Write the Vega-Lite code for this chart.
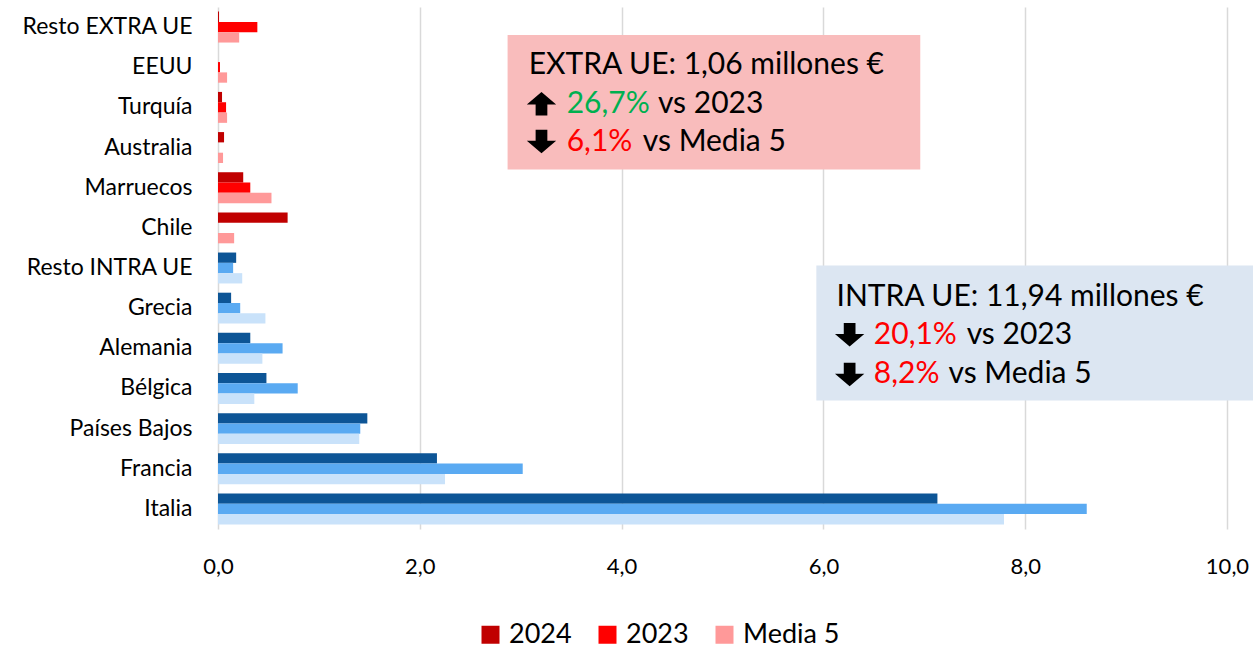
{
  "$schema": "https://vega.github.io/schema/vega-lite/v6.json",
  "width": 1009,
  "height": 522,
  "autosize": "none",
  "padding": {"left": 218, "top": 7, "right": 26, "bottom": 121},
  "background": "#FFFFFF",
  "config": {
    "view": {"stroke": null},
    "font": "Lato"
  },
  "datasets": {
    "barras": [
      {"pais": "Resto EXTRA UE", "grupo": "EXTRA UE", "serie": "2024", "valor": 0.01},
      {"pais": "Resto EXTRA UE", "grupo": "EXTRA UE", "serie": "2023", "valor": 0.39},
      {"pais": "Resto EXTRA UE", "grupo": "EXTRA UE", "serie": "Media 5", "valor": 0.21},
      {"pais": "EEUU", "grupo": "EXTRA UE", "serie": "2024", "valor": 0.0},
      {"pais": "EEUU", "grupo": "EXTRA UE", "serie": "2023", "valor": 0.02},
      {"pais": "EEUU", "grupo": "EXTRA UE", "serie": "Media 5", "valor": 0.09},
      {"pais": "Turquía", "grupo": "EXTRA UE", "serie": "2024", "valor": 0.04},
      {"pais": "Turquía", "grupo": "EXTRA UE", "serie": "2023", "valor": 0.08},
      {"pais": "Turquía", "grupo": "EXTRA UE", "serie": "Media 5", "valor": 0.09},
      {"pais": "Australia", "grupo": "EXTRA UE", "serie": "2024", "valor": 0.06},
      {"pais": "Australia", "grupo": "EXTRA UE", "serie": "2023", "valor": 0.0},
      {"pais": "Australia", "grupo": "EXTRA UE", "serie": "Media 5", "valor": 0.05},
      {"pais": "Marruecos", "grupo": "EXTRA UE", "serie": "2024", "valor": 0.25},
      {"pais": "Marruecos", "grupo": "EXTRA UE", "serie": "2023", "valor": 0.32},
      {"pais": "Marruecos", "grupo": "EXTRA UE", "serie": "Media 5", "valor": 0.53},
      {"pais": "Chile", "grupo": "EXTRA UE", "serie": "2024", "valor": 0.69},
      {"pais": "Chile", "grupo": "EXTRA UE", "serie": "2023", "valor": 0.0},
      {"pais": "Chile", "grupo": "EXTRA UE", "serie": "Media 5", "valor": 0.16},
      {"pais": "Resto INTRA UE", "grupo": "INTRA UE", "serie": "2024", "valor": 0.18},
      {"pais": "Resto INTRA UE", "grupo": "INTRA UE", "serie": "2023", "valor": 0.15},
      {"pais": "Resto INTRA UE", "grupo": "INTRA UE", "serie": "Media 5", "valor": 0.24},
      {"pais": "Grecia", "grupo": "INTRA UE", "serie": "2024", "valor": 0.13},
      {"pais": "Grecia", "grupo": "INTRA UE", "serie": "2023", "valor": 0.22},
      {"pais": "Grecia", "grupo": "INTRA UE", "serie": "Media 5", "valor": 0.47},
      {"pais": "Alemania", "grupo": "INTRA UE", "serie": "2024", "valor": 0.32},
      {"pais": "Alemania", "grupo": "INTRA UE", "serie": "2023", "valor": 0.64},
      {"pais": "Alemania", "grupo": "INTRA UE", "serie": "Media 5", "valor": 0.44},
      {"pais": "Bélgica", "grupo": "INTRA UE", "serie": "2024", "valor": 0.48},
      {"pais": "Bélgica", "grupo": "INTRA UE", "serie": "2023", "valor": 0.79},
      {"pais": "Bélgica", "grupo": "INTRA UE", "serie": "Media 5", "valor": 0.36},
      {"pais": "Países Bajos", "grupo": "INTRA UE", "serie": "2024", "valor": 1.48},
      {"pais": "Países Bajos", "grupo": "INTRA UE", "serie": "2023", "valor": 1.41},
      {"pais": "Países Bajos", "grupo": "INTRA UE", "serie": "Media 5", "valor": 1.40},
      {"pais": "Francia", "grupo": "INTRA UE", "serie": "2024", "valor": 2.17},
      {"pais": "Francia", "grupo": "INTRA UE", "serie": "2023", "valor": 3.02},
      {"pais": "Francia", "grupo": "INTRA UE", "serie": "Media 5", "valor": 2.25},
      {"pais": "Italia", "grupo": "INTRA UE", "serie": "2024", "valor": 7.13},
      {"pais": "Italia", "grupo": "INTRA UE", "serie": "2023", "valor": 8.61},
      {"pais": "Italia", "grupo": "INTRA UE", "serie": "Media 5", "valor": 7.79}
    ],
    "cajas": [
      {"grupo": "EXTRA UE", "x0": 2.87, "x1": 6.96, "y0": 0.70, "y1": 4.05},
      {"grupo": "INTRA UE", "x0": 5.93, "x1": 10.26, "y0": 6.44, "y1": 9.80}
    ],
    "textos": [
      {"texto": "EXTRA UE: 1,06 millones €", "x": 3.08, "y": 1.44, "tono": "negro"},
      {"texto": "26,7%", "x": 3.456, "y": 2.41, "tono": "verde"},
      {"texto": "vs 2023", "x": 4.36, "y": 2.41, "tono": "negro"},
      {"texto": "6,1%", "x": 3.456, "y": 3.35, "tono": "rojo"},
      {"texto": "vs Media 5", "x": 4.21, "y": 3.35, "tono": "negro"},
      {"texto": "INTRA UE: 11,94 millones €", "x": 6.13, "y": 7.21, "tono": "negro"},
      {"texto": "20,1%", "x": 6.50, "y": 8.16, "tono": "rojo"},
      {"texto": "vs 2023", "x": 7.42, "y": 8.16, "tono": "negro"},
      {"texto": "8,2%", "x": 6.50, "y": 9.15, "tono": "rojo"},
      {"texto": "vs Media 5", "x": 7.24, "y": 9.15, "tono": "negro"}
    ],
    "flechas": [
      {"flecha": "arriba", "x": 3.206, "y": 2.41},
      {"flecha": "abajo", "x": 3.206, "y": 3.35},
      {"flecha": "abajo", "x": 6.26, "y": 8.16},
      {"flecha": "abajo", "x": 6.26, "y": 9.15}
    ]
  },
  "layer": [
    {
      "data": {"name": "barras"},
      "encoding": {
        "y": {
          "field": "pais",
          "type": "nominal",
          "sort": ["Resto EXTRA UE", "EEUU", "Turquía", "Australia", "Marruecos", "Chile", "Resto INTRA UE", "Grecia", "Alemania", "Bélgica", "Países Bajos", "Francia", "Italia"],
          "scale": {"paddingInner": 0.23, "paddingOuter": 0.115},
          "axis": {"title": null, "domain": false, "ticks": false, "labelPadding": 26, "labelFontSize": 23, "labelFont": "Lato", "labelColor": "#000000", "grid": false}
        },
        "yOffset": {"field": "serie", "type": "nominal", "sort": ["2024", "2023", "Media 5"], "scale": {"paddingInner": 0, "paddingOuter": 0}},
        "x": {
          "field": "valor",
          "type": "quantitative",
          "title": null,
          "scale": {"domain": [0, 10], "nice": false},
          "axis": {"title": null, "values": [0, 2, 4, 6, 8, 10], "domain": false, "ticks": false, "grid": true, "gridColor": "#D9D9D9", "gridWidth": 1.5, "labelFontSize": 22, "labelFont": "Lato", "labelColor": "#000000", "labelPadding": 27, "labelFlush": false, "labelExpr": "replace(format(datum.value, '.1f'), '.', ',')"}
        }
      },
      "layer": [
        {
          "transform": [{"filter": "datum.grupo === 'EXTRA UE'"}],
          "mark": {"type": "bar"},
          "encoding": {
            "color": {
              "field": "serie",
              "type": "nominal",
              "scale": {"domain": ["2024", "2023", "Media 5"], "range": ["#C00000", "#FF0000", "#FF9999"]},
              "legend": {"orient": "none", "direction": "horizontal", "legendX": 259, "legendY": 614, "title": null, "symbolType": "square", "symbolSize": 324, "symbolStrokeWidth": 0, "labelFontSize": 27, "labelFont": "Lato", "labelColor": "#000000", "columnPadding": 22, "labelOffset": 5, "padding": 0}
            }
          }
        },
        {
          "transform": [{"filter": "datum.grupo === 'INTRA UE'"}],
          "mark": {"type": "bar"},
          "encoding": {
            "color": {
              "field": "serie",
              "type": "nominal",
              "scale": {"domain": ["2024", "2023", "Media 5"], "range": ["#0D5596", "#5AAAF2", "#C9E2FA"]},
              "legend": null
            }
          }
        }
      ],
      "resolve": {"scale": {"color": "independent"}}
    },
    {
      "data": {"name": "cajas"},
      "mark": {"type": "rect"},
      "encoding": {
        "x": {"field": "x0", "type": "quantitative", "title": null, "scale": {"domain": [0, 10], "nice": false}},
        "x2": {"field": "x1"},
        "y": {"field": "y0", "type": "quantitative", "scale": {"domain": [0, 13], "reverse": true, "nice": false, "zero": false}, "axis": null},
        "y2": {"field": "y1"},
        "color": {"field": "grupo", "type": "nominal", "scale": {"domain": ["EXTRA UE", "INTRA UE"], "range": ["#F9BCBC", "#DCE6F2"]}, "legend": null}
      }
    },
    {
      "data": {"name": "textos"},
      "mark": {"type": "text", "align": "left", "baseline": "middle", "font": "Lato", "fontSize": 30},
      "encoding": {
        "x": {"field": "x", "type": "quantitative", "title": null, "scale": {"domain": [0, 10], "nice": false}},
        "y": {"field": "y", "type": "quantitative", "scale": {"domain": [0, 13], "reverse": true, "nice": false, "zero": false}, "axis": null},
        "text": {"field": "texto"},
        "color": {"field": "tono", "type": "nominal", "scale": {"domain": ["negro", "verde", "rojo"], "range": ["#000000", "#00B050", "#FF0000"]}, "legend": null}
      }
    },
    {
      "data": {"name": "flechas"},
      "mark": {"type": "point", "filled": true, "size": 860, "color": "#000000", "opacity": 1, "strokeWidth": 0},
      "encoding": {
        "x": {"field": "x", "type": "quantitative", "title": null, "scale": {"domain": [0, 10], "nice": false}},
        "y": {"field": "y", "type": "quantitative", "scale": {"domain": [0, 13], "reverse": true, "nice": false, "zero": false}, "axis": null},
        "shape": {"field": "flecha", "type": "nominal", "scale": {"domain": ["arriba", "abajo"], "range": ["M0,-0.8L1,0.05L0.4,0.05L0.4,0.8L-0.4,0.8L-0.4,0.05L-1,0.05Z", "M0,0.8L1,-0.05L0.4,-0.05L0.4,-0.8L-0.4,-0.8L-0.4,-0.05L-1,-0.05Z"]}, "legend": null}
      }
    }
  ],
  "resolve": {"scale": {"y": "independent", "color": "independent", "shape": "independent"}}
}
